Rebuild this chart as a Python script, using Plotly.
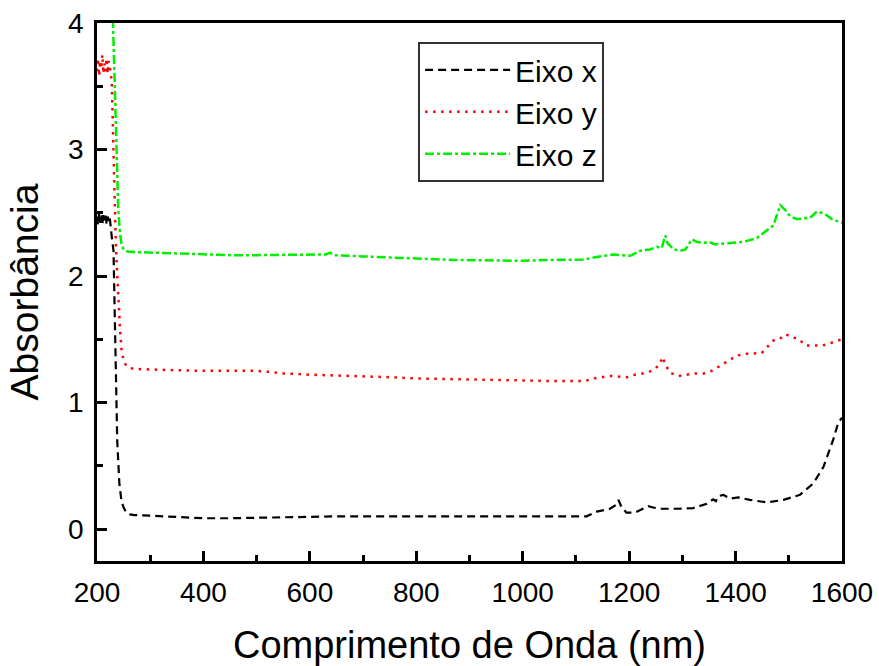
import plotly.graph_objects as go

# ---- data ----
x_black = [200, 202, 204, 206, 208, 210, 212, 214, 216, 218, 220, 222, 224, 226, 228, 231, 233, 235, 238, 242, 246, 250, 255, 262, 270, 300, 350, 400, 450, 500, 550, 600, 650, 700, 800, 900, 1000, 1060, 1120, 1139, 1164, 1175, 1180, 1186, 1195, 1211, 1225, 1236, 1245, 1258, 1290, 1320, 1346, 1358, 1363, 1368, 1377, 1390, 1405, 1427, 1459, 1490, 1521, 1546, 1565, 1583, 1593, 1600]
y_black = [2.47, 2.40, 2.50, 2.42, 2.48, 2.40, 2.50, 2.44, 2.49, 2.41, 2.47, 2.43, 2.46, 2.40, 2.30, 2.20, 1.70, 1.15, 0.70, 0.36, 0.22, 0.17, 0.13, 0.115, 0.11, 0.105, 0.095, 0.085, 0.085, 0.09, 0.095, 0.10, 0.10, 0.10, 0.10, 0.10, 0.10, 0.097, 0.10, 0.137, 0.16, 0.19, 0.23, 0.17, 0.13, 0.13, 0.16, 0.18, 0.17, 0.16, 0.16, 0.165, 0.20, 0.235, 0.22, 0.26, 0.27, 0.24, 0.25, 0.23, 0.21, 0.23, 0.27, 0.36, 0.49, 0.70, 0.84, 0.88]

x_red = [200, 202, 204, 206, 208, 210, 212, 214, 216, 218, 220, 222, 224, 226, 228, 230, 232, 235, 237, 240, 243, 246, 250, 255, 260, 270, 300, 350, 400, 450, 500, 530, 550, 600, 650, 700, 750, 800, 850, 900, 950, 1000, 1054, 1117, 1133, 1149, 1165, 1196, 1211, 1233, 1247, 1257, 1263, 1268, 1277, 1293, 1324, 1340, 1355, 1371, 1387, 1402, 1418, 1434, 1449, 1462, 1471, 1482, 1494, 1504, 1519, 1532, 1563, 1579, 1600]
y_red = [3.62, 3.72, 3.58, 3.70, 3.64, 3.75, 3.60, 3.68, 3.62, 3.72, 3.60, 3.70, 3.65, 3.60, 3.50, 3.10, 2.70, 2.30, 2.10, 1.80, 1.60, 1.42, 1.33, 1.29, 1.275, 1.265, 1.26, 1.255, 1.25, 1.25, 1.25, 1.24, 1.23, 1.22, 1.215, 1.21, 1.20, 1.19, 1.185, 1.18, 1.175, 1.17, 1.17, 1.17, 1.19, 1.20, 1.21, 1.20, 1.22, 1.235, 1.26, 1.30, 1.36, 1.30, 1.235, 1.21, 1.23, 1.23, 1.25, 1.29, 1.33, 1.37, 1.385, 1.385, 1.39, 1.45, 1.49, 1.50, 1.54, 1.52, 1.50, 1.45, 1.45, 1.47, 1.50]

x_green = [226, 230, 233, 236, 240, 243, 246, 250, 256, 265, 300, 350, 400, 450, 500, 550, 600, 630, 638, 645, 700, 750, 800, 850, 900, 950, 1000, 1054, 1114, 1139, 1170, 1202, 1221, 1239, 1252, 1261, 1268, 1272, 1284, 1296, 1306, 1318, 1327, 1340, 1349, 1362, 1390, 1415, 1440, 1459, 1471, 1484, 1494, 1503, 1515, 1540, 1553, 1568, 1581, 1600]
y_green = [4.60, 4.00, 3.50, 3.00, 2.52, 2.35, 2.25, 2.21, 2.195, 2.19, 2.185, 2.175, 2.17, 2.165, 2.165, 2.165, 2.165, 2.17, 2.185, 2.165, 2.155, 2.145, 2.135, 2.13, 2.125, 2.125, 2.12, 2.127, 2.13, 2.15, 2.17, 2.16, 2.20, 2.21, 2.23, 2.22, 2.32, 2.26, 2.21, 2.20, 2.21, 2.29, 2.27, 2.26, 2.27, 2.25, 2.26, 2.27, 2.30, 2.36, 2.40, 2.56, 2.52, 2.47, 2.45, 2.46, 2.51, 2.49, 2.45, 2.42]

series_names = ["Eixo x", "Eixo y", "Eixo z"]
x_tickvals = [200, 400, 600, 800, 1000, 1200, 1400, 1600]
y_tickvals = [0, 1, 2, 3, 4]

FONT = "Arial, Liberation Sans, sans-serif"

fig = go.Figure()
fig.add_trace(go.Scatter(x=x_black, y=y_black, mode="lines", name=series_names[0],
                         line=dict(color="black", width=2.2, dash="8px,5px")))
fig.add_trace(go.Scatter(x=x_red, y=y_red, mode="lines", name=series_names[1],
                         line=dict(color="#ff0000", width=2.5, dash="2.5px,5.5px")))
fig.add_trace(go.Scatter(x=x_green, y=y_green, mode="lines", name=series_names[2],
                         line=dict(color="#00ee00", width=2.5, dash="9px,3px,3px,3px")))

axis_common = dict(showline=True, linecolor="black", linewidth=2.5, mirror=True,
                   ticks="inside", tickcolor="black", tickwidth=2.5, ticklen=10,
                   showgrid=False, zeroline=False, automargin=False,
                   tickfont=dict(family=FONT, size=28, color="black"))

fig.update_xaxes(range=[200, 1600], tickvals=x_tickvals, ticklabelstandoff=5,
                 minor=dict(ticks="inside", ticklen=6, tickwidth=2.5, tickcolor="black", dtick=100, tick0=200),
                 title=dict(text="Comprimento de Onda (nm)", font=dict(family=FONT, size=38, color="black"), standoff=26),
                 **axis_common)
fig.update_yaxes(range=[-0.253, 4.0], tickvals=y_tickvals, ticklabelstandoff=5,
                 minor=dict(ticks="inside", ticklen=6, tickwidth=2.5, tickcolor="black", dtick=0.5, tick0=0),
                 title=dict(text="Absorbância", font=dict(family=FONT, size=39, color="black"), standoff=18),
                 **axis_common)

fig.update_layout(
    width=879, height=666,
    margin=dict(l=97, r=37, t=23, b=105),
    paper_bgcolor="white", plot_bgcolor="white",
    font=dict(family=FONT, color="black"),
    legend=dict(x=0.431, y=0.965, xanchor="left", yanchor="top",
                bgcolor="white", bordercolor="#333", borderwidth=2,
                font=dict(family=FONT, size=30, color="black"),
                itemwidth=85, tracegroupgap=0),
    showlegend=True,
)

fig.write_html("out.html")
